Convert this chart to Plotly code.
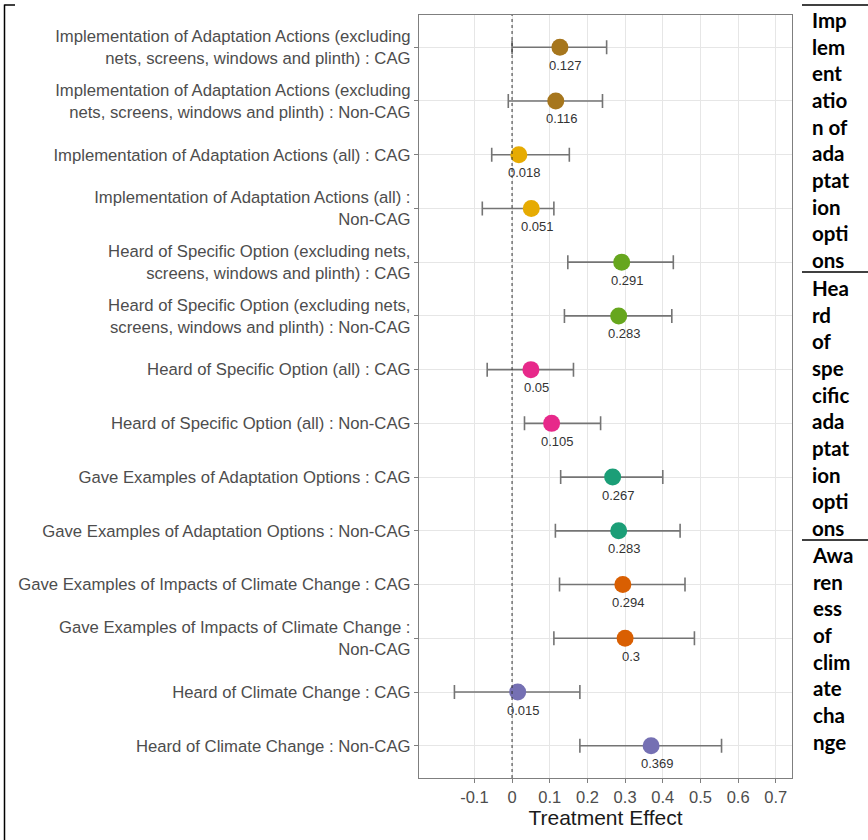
import plotly.graph_objects as go

categories = [
    "Implementation of Adaptation Actions (excluding<br>nets, screens, windows and plinth) : CAG",
    "Implementation of Adaptation Actions (excluding<br>nets, screens, windows and plinth) : Non-CAG",
    "Implementation of Adaptation Actions (all) : CAG",
    "Implementation of Adaptation Actions (all) :<br>Non-CAG",
    "Heard of Specific Option (excluding nets,<br>screens, windows and plinth) : CAG",
    "Heard of Specific Option (excluding nets,<br>screens, windows and plinth) : Non-CAG",
    "Heard of Specific Option (all) : CAG",
    "Heard of Specific Option (all) : Non-CAG",
    "Gave Examples of Adaptation Options : CAG",
    "Gave Examples of Adaptation Options : Non-CAG",
    "Gave Examples of Impacts of Climate Change : CAG",
    "Gave Examples of Impacts of Climate Change :<br>Non-CAG",
    "Heard of Climate Change : CAG",
    "Heard of Climate Change : Non-CAG",
]
estimates = [0.127, 0.116, 0.018, 0.051, 0.291, 0.283, 0.05, 0.105,
             0.267, 0.283, 0.294, 0.3, 0.015, 0.369]
ci_lower = [0.000, -0.010, -0.054, -0.079, 0.148, 0.139, -0.066, 0.033,
            0.129, 0.115, 0.126, 0.111, -0.153, 0.180]
ci_upper = [0.251, 0.240, 0.152, 0.111, 0.428, 0.424, 0.163, 0.235,
            0.400, 0.446, 0.459, 0.484, 0.180, 0.556]
point_colors = ["#A6761D", "#A6761D", "#E6AB02", "#E6AB02", "#66A61E", "#66A61E",
                "#E7298A", "#E7298A", "#1B9E77", "#1B9E77", "#D95F02", "#D95F02",
                "#7570B3", "#7570B3"]
x_ticks = [-0.1, 0, 0.1, 0.2, 0.3, 0.4, 0.5, 0.6, 0.7]
x_tick_labels = ["-0.1", "0", "0.1", "0.2", "0.3", "0.4", "0.5", "0.6", "0.7"]
group_labels = [
    ["Imp", "lem", "ent", "atio", "n of", "ada", "ptat", "ion", "opti", "ons"],
    ["Hea", "rd", "of", "spe", "cific", "ada", "ptat", "ion", "opti", "ons"],
    ["Awa", "ren", "ess", "of", "clim", "ate", "cha", "nge"],
]

W, H = 868, 840
L, R, T, B = 419, 76, 15, 62
pw, ph = W - L - R, H - T - B

def px_x(p):
    return (p - L) / pw

def px_y(p):
    return (H - B - p) / ph

err_plus = [u - e for u, e in zip(ci_upper, estimates)]
err_minus = [e - l for e, l in zip(estimates, ci_lower)]

fig = go.Figure()
fig.add_trace(go.Scatter(
    x=estimates, y=categories, mode="markers",
    marker=dict(size=17, color=point_colors, line=dict(width=0)),
    error_x=dict(type="data", symmetric=False, array=err_plus, arrayminus=err_minus,
                 color="#747474", thickness=1.6, width=7),
    showlegend=False, hoverinfo="x+y",
))

for e, c in zip(estimates, categories):
    fig.add_annotation(x=e, y=c, text=str(e), showarrow=False, xshift=6, yshift=-18,
                       font=dict(family="Liberation Sans, Arial", size=13, color="#333333"))

fig.add_vline(x=0, line=dict(color="#333333", width=1, dash="3px,3px"))

# Group labels on the right
centers_px = [140, 407.5, 648.5]
for lines, cy in zip(group_labels, centers_px):
    fig.add_annotation(xref="paper", yref="paper", x=px_x(810), y=px_y(cy),
                       xanchor="left", yanchor="middle", align="left", showarrow=False,
                       text="<br>".join(lines),
                       font=dict(family="Lato, Open Sans, sans-serif", size=20.5,
                                 color="#000000", weight="bold"))

# Table-like lines
for yy in [5, 272, 540]:
    fig.add_shape(type="line", xref="paper", yref="paper",
                  x0=px_x(802), x1=px_x(868), y0=px_y(yy), y1=px_y(yy),
                  line=dict(color="black", width=1.5))
fig.add_shape(type="line", xref="paper", yref="paper",
              x0=px_x(4.5), x1=px_x(4.5), y0=px_y(4.5), y1=px_y(840),
              line=dict(color="black", width=1.5))
fig.add_shape(type="line", xref="paper", yref="paper",
              x0=px_x(4.5), x1=px_x(15), y0=px_y(5), y1=px_y(5),
              line=dict(color="black", width=1.5))

fig.update_layout(
    width=W, height=H,
    margin=dict(l=L, r=R, t=T, b=B, autoexpand=False),
    paper_bgcolor="white", plot_bgcolor="white",
    font=dict(family="Liberation Sans, Arial", color="#4d4d4d"),
    xaxis=dict(range=[-0.247, 0.743], tickvals=x_ticks, ticktext=x_tick_labels,
               showgrid=True, gridcolor="#e6e6e6", gridwidth=1, zeroline=False,
               showline=True, mirror=True, linecolor="#7f7f7f", linewidth=1.3,
               ticks="outside", ticklen=4, tickcolor="#7f7f7f",
               tickfont=dict(size=16.5, color="#4d4d4d"),
               title=dict(text="Treatment Effect", standoff=4,
                          font=dict(size=21, color="#1a1a1a"))),
    yaxis=dict(type="category", categoryorder="array", categoryarray=categories,
               range=[13.6, -0.6],
               showgrid=True, gridcolor="#e6e6e6", gridwidth=1, zeroline=False,
               showline=True, mirror=True, linecolor="#7f7f7f", linewidth=1.3,
               ticks="outside", ticklen=4, tickcolor="#7f7f7f",
               tickfont=dict(size=16.7, color="#4d4d4d")),
)

fig.write_html("out.html", config={"displayModeBar": False},
               post_script="document.body.style.margin='0';")
